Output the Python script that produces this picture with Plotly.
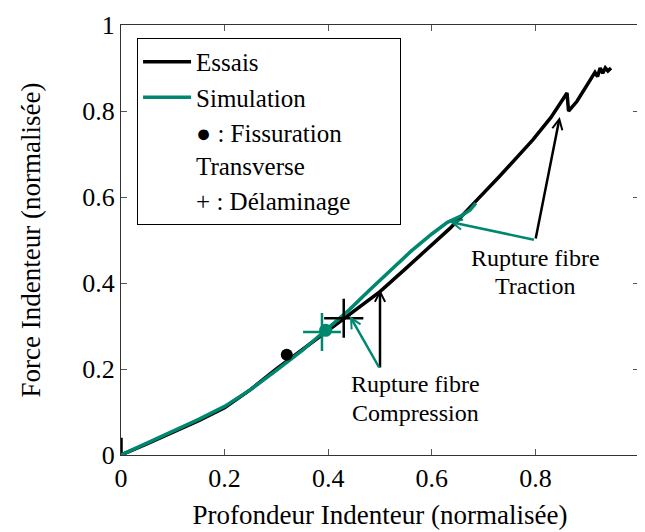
import plotly.graph_objects as go

# Essais (test) curve
essais_x = [0.0, 0.0, 0.05, 0.1, 0.15, 0.2, 0.25, 0.3, 0.32, 0.336, 0.4, 0.45, 0.5, 0.55, 0.6,
            0.635, 0.68, 0.73, 0.795, 0.83, 0.861, 0.864, 0.88, 0.905, 0.915, 0.92, 0.925,
            0.93, 0.935, 0.94, 0.946]
essais_y = [0.04, 0.0, 0.026, 0.052, 0.08, 0.11, 0.152, 0.2, 0.218, 0.232, 0.288, 0.333, 0.38,
            0.434, 0.488, 0.527, 0.584, 0.647, 0.733, 0.785, 0.842, 0.8, 0.822, 0.872, 0.89,
            0.88, 0.9, 0.888, 0.9, 0.893, 0.9]

# Simulation curve
simu_x = [0.0, 0.05, 0.1, 0.15, 0.2, 0.25, 0.3, 0.35, 0.395, 0.44, 0.48, 0.52, 0.56, 0.6,
          0.63, 0.655, 0.674, 0.685]
simu_y = [0.0, 0.027, 0.055, 0.083, 0.113, 0.152, 0.197, 0.243, 0.29, 0.337, 0.384, 0.43,
          0.474, 0.514, 0.541, 0.555, 0.57, 0.586]

# events
fiss_essais = (0.32, 0.233)
fiss_simu = (0.395, 0.29)
delam_essais = (0.43, 0.318)
delam_simu = (0.388, 0.286)

# annotation anchors and arrow tips
compression_origin = (0.5, 0.2)
compression_tip_essais = (0.5, 0.385)
compression_tip_simu = (0.442, 0.323)
traction_origin = (0.8, 0.5)
traction_tip_essais = (0.847, 0.786)
traction_tip_simu = (0.635, 0.542)

BLACK = "#000000"
GREEN = "#00876F"
FONT = "'Liberation Serif', 'DejaVu Serif', serif"
# trailing padding widens the legend box like the reference (zero-width space stops trimming)
PAD = "\u00a0" * 7 + "\u200b"

fig = go.Figure()
fig.add_trace(go.Scatter(x=essais_x, y=essais_y, mode="lines", name="Essais",
                         line=dict(color=BLACK, width=3.5)))
fig.add_trace(go.Scatter(x=simu_x, y=simu_y, mode="lines", name="Simulation",
                         line=dict(color=GREEN, width=3.5)))
fig.add_trace(go.Scatter(x=[None], y=[None], mode="lines", name="● : Fissuration<br>Transverse",
                         line=dict(color="rgba(0,0,0,0)")))
fig.add_trace(go.Scatter(x=[None], y=[None], mode="lines", name="+ : Délaminage" + PAD,
                         line=dict(color="rgba(0,0,0,0)")))

fig.add_trace(go.Scatter(x=[fiss_essais[0]], y=[fiss_essais[1]], mode="markers", showlegend=False,
                         marker=dict(color=BLACK, size=12)))
fig.add_trace(go.Scatter(x=[delam_essais[0]], y=[delam_essais[1]], mode="markers", showlegend=False,
                         marker=dict(symbol="cross-thin", size=28, line=dict(color=BLACK, width=2.5))))
fig.add_trace(go.Scatter(x=[fiss_simu[0]], y=[fiss_simu[1]], mode="markers", showlegend=False,
                         marker=dict(color=GREEN, size=13)))
fig.add_trace(go.Scatter(x=[delam_simu[0]], y=[delam_simu[1]], mode="markers", showlegend=False,
                         marker=dict(symbol="cross-thin", size=27, line=dict(color=GREEN, width=2.5))))


def arrow(tip, origin, color):
    fig.add_annotation(x=tip[0], y=tip[1], ax=origin[0], ay=origin[1], xref="x", yref="y",
                       axref="x", ayref="y", text="", showarrow=True, arrowhead=5,
                       arrowsize=0.8, arrowwidth=2.5, arrowcolor=color, standoff=0)


arrow(compression_tip_essais, compression_origin, BLACK)
arrow(compression_tip_simu, compression_origin, GREEN)
arrow(traction_tip_essais, traction_origin, BLACK)
arrow(traction_tip_simu, traction_origin, GREEN)

for txt, x, y in [("Rupture fibre", 0.568, 0.164), ("Compression", 0.568, 0.097),
                  ("Rupture fibre", 0.8, 0.457), ("Traction", 0.8, 0.393)]:
    fig.add_annotation(x=x, y=y, xref="x", yref="y", text=txt, showarrow=False,
                       font=dict(size=24, color=BLACK, family=FONT))

axis = dict(range=[0, 1], dtick=0.2, showgrid=False, zeroline=False, showline=True,
            linecolor="#333", linewidth=1, mirror="ticks", ticks="inside", ticklen=6,
            tickcolor="#555", tickfont=dict(size=26, family=FONT, color=BLACK),
            automargin=False)

# the page body adds an 8px margin, so the figure is drawn 8px smaller and shifted
fig.update_layout(
    width=637, height=524,
    margin=dict(l=113, r=6, t=17, b=77),
    paper_bgcolor="white", plot_bgcolor="white",
    font=dict(family=FONT, color=BLACK, size=26),
    xaxis=dict(axis, title=dict(text="Profondeur Indenteur (normalisée)", standoff=12,
                                font=dict(size=27, family=FONT))),
    yaxis=dict(axis, title=dict(text="Force Indenteur (normalisée)", standoff=33,
                                font=dict(size=27, family=FONT))),
    legend=dict(x=0.031, y=0.97, xanchor="left", yanchor="top", bgcolor="white",
                bordercolor=BLACK, borderwidth=1, font=dict(size=25, family=FONT),
                tracegroupgap=0, itemwidth=48),
)

fig.write_html("out.html")
